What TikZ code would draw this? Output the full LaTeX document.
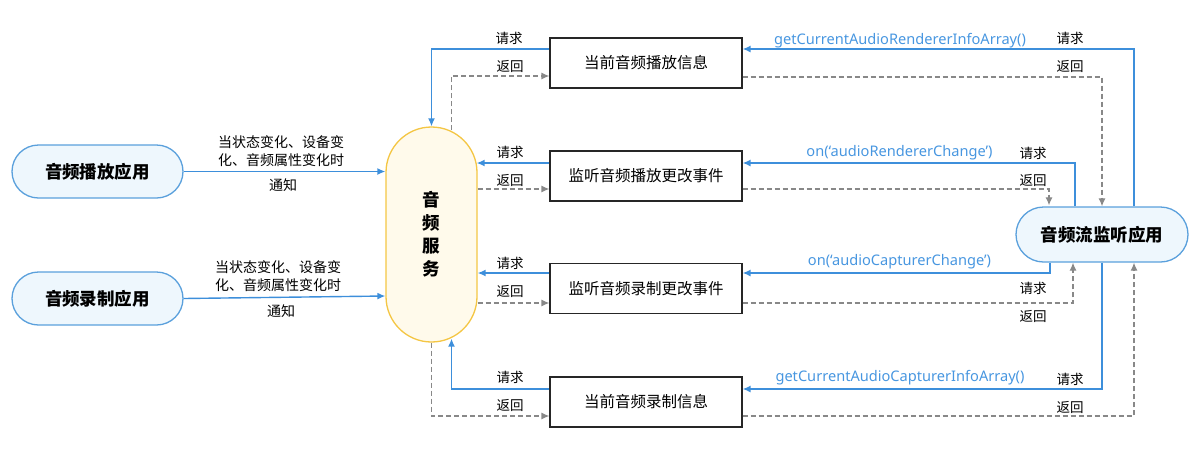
\documentclass[tikz,border=0pt]{standalone}
\usepackage{fontspec}
\setmainfont{Noto Sans CJK SC}
\newfontfamily\latinfont{Noto Sans}
\usetikzlibrary{arrows.meta}
\definecolor{lblue}{HTML}{3D8FDB}
\definecolor{tblue}{HTML}{4796E0}
\definecolor{nfill}{HTML}{EEF7FD}
\definecolor{nstroke}{HTML}{5AA0DC}
\definecolor{sfill}{HTML}{FFFAEB}
\definecolor{sstroke}{HTML}{F4C644}
\definecolor{dgray}{HTML}{888888}
\tikzset{
  appnode/.style={draw=nstroke, fill=nfill, line width=1.3pt, rounded corners=26.5pt,
    minimum width=171pt, minimum height=53pt, inner sep=0pt,
    font=\fontsize{17.5}{20}\selectfont\bfseries},
  svcnode/.style={draw=sstroke, fill=sfill, line width=1.3pt, rounded corners=45.5pt,
    minimum width=91pt, minimum height=215pt, inner sep=0pt, align=center,
    font=\fontsize{17.5}{23}\selectfont\bfseries},
  infobox/.style={draw=black!85, line width=1.2pt, minimum width=192pt, minimum height=50pt,
    inner sep=0pt, font=\fontsize{15.5}{18}\selectfont},
  req/.style={draw=lblue, line width=1.4pt, -{Latex[length=8pt,width=7pt]}},
  ret/.style={draw=dgray, line width=1.2pt, dash pattern=on 5pt off 3pt, -{Latex[length=8pt,width=7pt]}},
  lbl/.style={font=\fontsize{13.5}{16}\selectfont, inner sep=0pt},
  flbl/.style={font=\fontsize{14}{18}\selectfont, inner sep=0pt, align=center},
  blbl/.style={font=\latinfont\fontsize{14.6}{17}\selectfont, inner sep=0pt, text=tblue},
}
\begin{document}
\begin{tikzpicture}[x=1pt,y=-1pt]
\useasboundingbox (0,0) rectangle (1200,451);
% nodes
\node[appnode] (pb) at (97.5,171.5) {音频播放应用};
\node[appnode] (rb) at (97.5,298.5) {音频录制应用};
\node[svcnode] (svc) at (431.5,234.5) {音\\频\\服\\务};
\node[appnode, minimum width=172pt, minimum height=55pt, rounded corners=27.5pt] (mon) at (1102,234.5) {音频流监听应用};
\node[infobox] (b1) at (646,63) {当前音频播放信息};
\node[infobox] (b2) at (646,176) {监听音频播放更改事件};
\node[infobox] (b3) at (646,288.5) {监听音频录制更改事件};
\node[infobox] (b4) at (646,402) {当前音频录制信息};
% left notifications
\draw[req] (pb.east) -- (svc.west |- pb.east);
\draw[req] (rb.east) -- ([yshift=-61.5pt]svc.west);
\node[flbl] (n1) at (281,151) {当状态变化、设备变\\化、音频属性变化时};
\node[flbl] (n1b) at (283,185) {通知};
\node[flbl] (n2) at (278,276) {当状态变化、设备变\\化、音频属性变化时};
\node[flbl] (n2b) at (281,311) {通知};
% box 1
\draw[req] ([xshift=32pt]mon.north) |- ([yshift=14pt]b1.east);
\draw[req] ([yshift=14pt]b1.west) -| (svc.north);
\draw[ret] ([xshift=20pt,yshift=-4pt]svc.north) |- ([yshift=-13pt]b1.west);
\draw[ret] ([yshift=-14pt]b1.east) -| (mon.north);
\node[blbl] (g1) at (900,41) {getCurrentAudioRendererInfoArray()};
\node[lbl] (q1r) at (1070,38) {请求};
\node[lbl] (r1r) at (1070,66) {返回};
\node[lbl] (q1l) at (509,38) {请求};
\node[lbl] (r1l) at (510,66) {返回};
% box 2
\draw[req] ([xshift=-27pt]mon.north) |- ([yshift=13pt]b2.east);
\draw[req] ([yshift=13pt]b2.west) -- ([xshift=-1pt,yshift=71.5pt]svc.east);
\draw[ret] ([yshift=45.5pt]svc.east) -- ([yshift=-13pt]b2.west);
\draw[ret] ([yshift=-13pt]b2.east) -| ([xshift=-53pt,yshift=1pt]mon.north);
\node[blbl] (o1) at (899.5,153) {on(‘audioRendererChange’)};
\node[lbl] (q2r) at (1033,153) {请求};
\node[lbl] (r2r) at (1033,180) {返回};
\node[lbl] (q2l) at (510,152) {请求};
\node[lbl] (r2l) at (510,180) {返回};
% box 3
\draw[req] ([xshift=-52pt]mon.south) |- ([yshift=15.5pt]b3.east);
\draw[req] ([yshift=15.5pt]b3.west) -- ([yshift=-38.5pt]svc.east);
\draw[ret] ([yshift=-68.5pt]svc.east) -- ([yshift=-14.5pt]b3.west);
\draw[ret] ([yshift=-14.5pt]b3.east) -| ([xshift=-29pt]mon.south);
\node[blbl] (o2) at (899.5,262) {on(‘audioCapturerChange’)};
\node[lbl] (q3r) at (1033,288) {请求};
\node[lbl] (r3r) at (1033,316) {返回};
\node[lbl] (q3l) at (510,263) {请求};
\node[lbl] (r3l) at (510,291) {返回};
% box 4
\draw[req] (mon.south) |- ([yshift=13pt]b4.east);
\draw[req] ([yshift=13pt]b4.west) -| ([xshift=20pt,yshift=4pt]svc.south);
\draw[ret] (svc.south) |- ([yshift=-14pt]b4.west);
\draw[ret] ([yshift=-14pt]b4.east) -| ([xshift=32pt]mon.south);
\node[blbl] (g2) at (900,378) {getCurrentAudioCapturerInfoArray()};
\node[lbl] (q4r) at (1070,379) {请求};
\node[lbl] (r4r) at (1070,407) {返回};
\node[lbl] (q4l) at (510,377) {请求};
\node[lbl] (r4l) at (510,405) {返回};
\end{tikzpicture}
\end{document}
